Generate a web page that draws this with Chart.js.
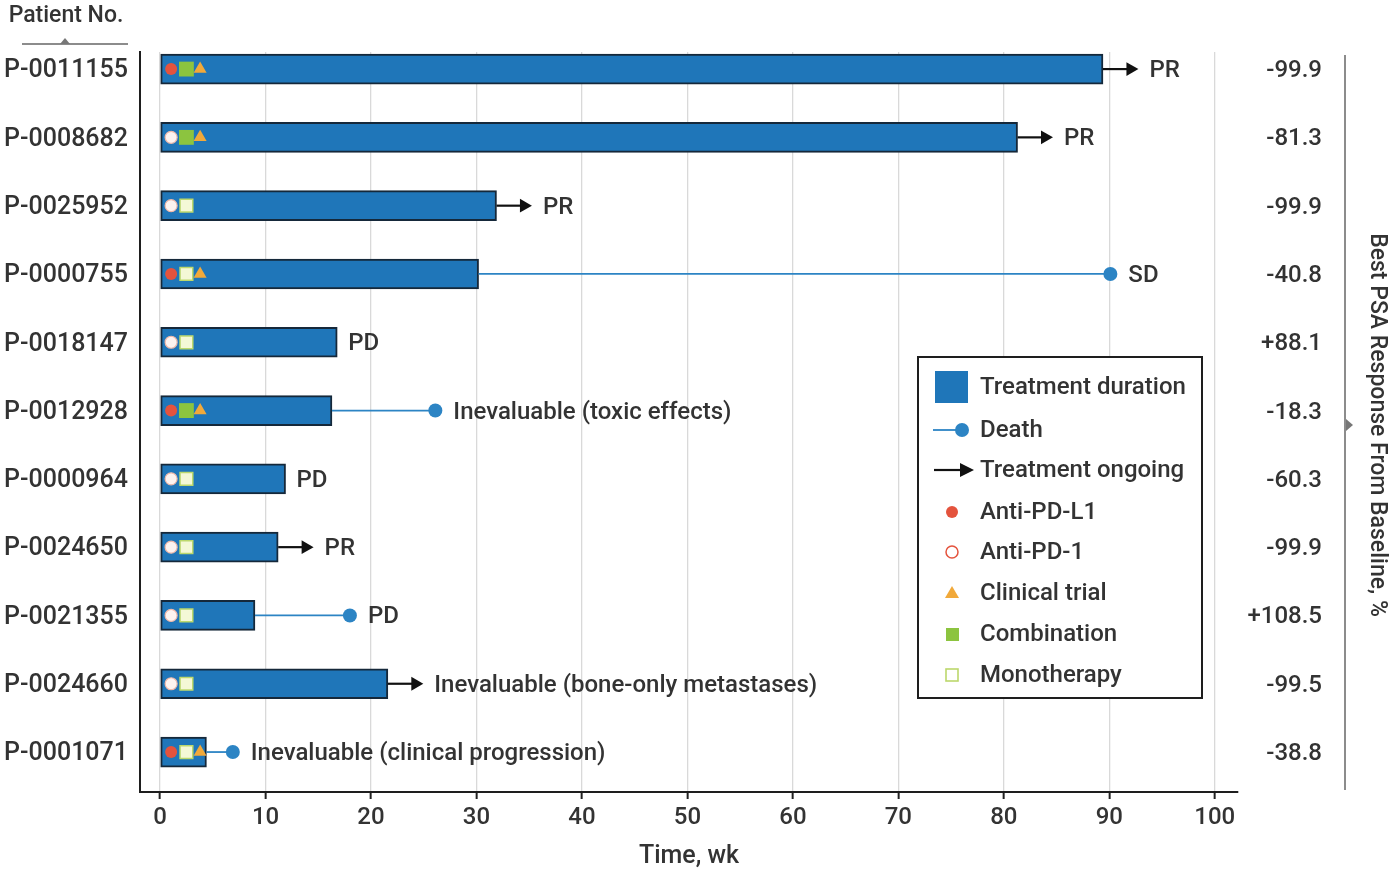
<!DOCTYPE html>
<html>
<head>
<meta charset="utf-8">
<script src="https://cdn.jsdelivr.net/npm/chart.js@4.4.1/dist/chart.umd.min.js"></script>
<style>
  html, body { margin: 0; padding: 0; background: #fff; }
  canvas { display: block; }
</style>
</head>
<body>
<canvas id="swimmer" width="1397" height="875"></canvas>
<script>
// ---- data ----
const patients = ['P-0011155', 'P-0008682', 'P-0025952', 'P-0000755', 'P-0018147', 'P-0012928',
                  'P-0000964', 'P-0024650', 'P-0021355', 'P-0024660', 'P-0001071'];
const durationWk = [89.4, 81.3, 31.9, 30.2, 16.8, 16.3, 11.9, 11.2, 9.0, 21.6, 4.4];
const deathWk    = [null, null, null, 90.1, null, 26.1, null, null, 18.0, null, 6.9];
const ongoing    = [true, true, true, false, false, false, false, true, false, true, false];
const drug       = ['PD-L1', 'PD-1', 'PD-1', 'PD-L1', 'PD-1', 'PD-L1', 'PD-1', 'PD-1', 'PD-1', 'PD-1', 'PD-L1'];
const regimen    = ['Combination', 'Combination', 'Monotherapy', 'Monotherapy', 'Monotherapy', 'Combination',
                    'Monotherapy', 'Monotherapy', 'Monotherapy', 'Monotherapy', 'Monotherapy'];
const clinicalTrial = [true, true, false, true, false, true, false, false, false, false, true];
const response   = ['PR', 'PR', 'PR', 'SD', 'PD', 'Inevaluable (toxic effects)', 'PD', 'PR', 'PD',
                    'Inevaluable (bone-only metastases)', 'Inevaluable (clinical progression)'];
const psaChange  = ['-99.9', '-81.3', '-99.9', '-40.8', '+88.1', '-18.3', '-60.3', '-99.9', '+108.5', '-99.5', '-38.8'];
const xTicks     = [0, 10, 20, 30, 40, 50, 60, 70, 80, 90, 100];

// ---- styling ----
const FONT = 'Roboto, "Open Sans", sans-serif';
const FS = 24;
const TEXT = '#333333';
const BAR_BLUE = '#1f76b9';
const BAR_EDGE = '#15283a';
const DEATH_BLUE = '#2c84c4';
const RED = '#e4533d';
const GREEN = '#8cc43f';
const ORANGE = '#f1a93a';
const MONO_FILL = '#f4f8d6';
const MONO_EDGE = '#bcd86c';
const ARROW_LEN = 2.6;    // shaft length, weeks
const ARROW_HEAD = 8;     // px
const DOT_R = 7;          // px
// marker slots inside the start of each bar (weeks)
const SLOT_DRUG = 1.05, SLOT_REGIMEN = 2.5, SLOT_TRIAL = 3.8;

const rows = patients.map((_, i) => i);

const datasets = [];

// start-of-treatment markers (drawn on top)
datasets.push({
  type: 'line', showLine: false, order: 0,
  data: rows.filter(i => clinicalTrial[i]).map(i => ({ x: SLOT_TRIAL, y: i })),
  pointStyle: 'triangle', pointRadius: 7.5, pointBackgroundColor: ORANGE, pointBorderWidth: 0
});
datasets.push({
  type: 'line', showLine: false, order: 0,
  data: rows.filter(i => regimen[i] === 'Combination').map(i => ({ x: SLOT_REGIMEN, y: i })),
  pointStyle: 'rect', pointRadius: 10.5, pointBackgroundColor: GREEN, pointBorderWidth: 0
});
datasets.push({
  type: 'line', showLine: false, order: 0,
  data: rows.filter(i => regimen[i] === 'Monotherapy').map(i => ({ x: SLOT_REGIMEN, y: i })),
  pointStyle: 'rect', pointRadius: 9, pointBackgroundColor: MONO_FILL, pointBorderColor: MONO_EDGE, pointBorderWidth: 1.5
});
datasets.push({
  type: 'line', showLine: false, order: 0,
  data: rows.filter(i => drug[i] === 'PD-L1').map(i => ({ x: SLOT_DRUG, y: i })),
  pointStyle: 'circle', pointRadius: 6, pointBackgroundColor: RED, pointBorderWidth: 0
});
datasets.push({
  type: 'line', showLine: false, order: 0,
  data: rows.filter(i => drug[i] === 'PD-1').map(i => ({ x: SLOT_DRUG, y: i })),
  pointStyle: 'circle', pointRadius: 6, pointBackgroundColor: '#fdf3f0', pointBorderColor: '#f0b8a8', pointBorderWidth: 1.2
});

// death follow-up lines
rows.filter(i => deathWk[i] != null).forEach(i => {
  datasets.push({
    type: 'line', order: 5,
    data: [{ x: durationWk[i], y: i }, { x: deathWk[i], y: i }],
    borderColor: DEATH_BLUE, borderWidth: 1.8,
    pointRadius: [0, DOT_R], pointBackgroundColor: DEATH_BLUE, pointBorderWidth: 0
  });
});

// treatment-ongoing arrows
rows.filter(i => ongoing[i]).forEach(i => {
  datasets.push({
    type: 'line', order: 5,
    data: [{ x: durationWk[i], y: i }, { x: durationWk[i] + ARROW_LEN, y: i }],
    borderColor: '#111', borderWidth: 2.2,
    pointStyle: 'triangle', pointRotation: 90,
    pointRadius: [0, ARROW_HEAD], pointBackgroundColor: '#111', pointBorderWidth: 0
  });
});

// treatment duration bars
datasets.push({
  type: 'bar', order: 10,
  data: rows.map(i => ({ x: [0, durationWk[i]], y: i })),
  backgroundColor: BAR_BLUE, borderColor: BAR_EDGE, borderWidth: 2,
  borderSkipped: false, barThickness: 30
});

// response labels, PSA column, side titles and legend box
const annotations = {
  id: 'annotations',
  afterDatasetsDraw(chart) {
    const { ctx, scales: { x, y } } = chart;
    ctx.save();
    ctx.font = `500 ${FS}px ${FONT}`;
    ctx.fillStyle = TEXT;
    ctx.textBaseline = 'middle';
    rows.forEach(i => {
      const py = y.getPixelForValue(i);
      let end = x.getPixelForValue(durationWk[i]);
      if (ongoing[i]) end = x.getPixelForValue(durationWk[i] + ARROW_LEN) + ARROW_HEAD;
      if (deathWk[i] != null) end = x.getPixelForValue(deathWk[i]) + DOT_R;
      ctx.textAlign = 'left';
      ctx.fillText(response[i], end + 11, py + 2);
      ctx.textAlign = 'right';
      ctx.fillText(psaChange[i], 1322, py + 2);
    });

    // right-hand bracket for PSA column
    ctx.strokeStyle = '#666';
    ctx.lineWidth = 1.5;
    ctx.beginPath();
    ctx.moveTo(1345, 55); ctx.lineTo(1345, 790);
    ctx.stroke();
    ctx.fillStyle = '#777';
    ctx.beginPath();
    ctx.moveTo(1346, 419); ctx.lineTo(1353, 425); ctx.lineTo(1346, 431);
    ctx.closePath(); ctx.fill();

    ctx.fillStyle = TEXT;
    ctx.save();
    ctx.translate(1377, 425);
    ctx.rotate(Math.PI / 2);
    ctx.textAlign = 'center';
    ctx.font = `500 23px ${FONT}`;
    ctx.fillText('Best PSA Response From Baseline, %', 0, 0);
    ctx.restore();

    // patient column header
    ctx.textAlign = 'center';
    ctx.font = `500 23px ${FONT}`;
    ctx.fillText('Patient No.', 66, 16);
    ctx.strokeStyle = '#666';
    ctx.beginPath();
    ctx.moveTo(22, 44); ctx.lineTo(128, 44);
    ctx.stroke();
    ctx.fillStyle = '#777';
    ctx.beginPath();
    ctx.moveTo(60, 44); ctx.lineTo(65, 38); ctx.lineTo(70, 44);
    ctx.closePath(); ctx.fill();

    // legend
    const L = 918, T = 357, R = 1202, B = 698;
    ctx.fillStyle = '#fff';
    ctx.fillRect(L, T, R - L, B - T);
    ctx.strokeStyle = '#1e1e1e';
    ctx.lineWidth = 2;
    ctx.strokeRect(L, T, R - L, B - T);

    const tx = 980;
    const rowsY = [387, 430, 470, 512, 552, 593, 634, 675];
    const labels = ['Treatment duration', 'Death', 'Treatment ongoing', 'Anti-PD-L1', 'Anti-PD-1',
                    'Clinical trial', 'Combination', 'Monotherapy'];
    // swatches
    ctx.fillStyle = BAR_BLUE;
    ctx.fillRect(935, rowsY[0] - 16, 33, 32);

    ctx.strokeStyle = DEATH_BLUE; ctx.lineWidth = 1.8;
    ctx.beginPath(); ctx.moveTo(933, rowsY[1]); ctx.lineTo(958, rowsY[1]); ctx.stroke();
    ctx.fillStyle = DEATH_BLUE;
    ctx.beginPath(); ctx.arc(962, rowsY[1], DOT_R, 0, Math.PI * 2); ctx.fill();

    ctx.strokeStyle = '#111'; ctx.lineWidth = 2.2;
    ctx.beginPath(); ctx.moveTo(934, rowsY[2]); ctx.lineTo(962, rowsY[2]); ctx.stroke();
    ctx.fillStyle = '#111';
    ctx.beginPath(); ctx.moveTo(974, rowsY[2]); ctx.lineTo(960, rowsY[2] - 7); ctx.lineTo(960, rowsY[2] + 7);
    ctx.closePath(); ctx.fill();

    ctx.fillStyle = RED;
    ctx.beginPath(); ctx.arc(952, rowsY[3], 6, 0, Math.PI * 2); ctx.fill();

    ctx.strokeStyle = RED; ctx.lineWidth = 1.5;
    ctx.beginPath(); ctx.arc(952, rowsY[4], 6, 0, Math.PI * 2); ctx.stroke();

    ctx.fillStyle = ORANGE;
    ctx.beginPath(); ctx.moveTo(952, rowsY[5] - 7); ctx.lineTo(959, rowsY[5] + 5); ctx.lineTo(945, rowsY[5] + 5);
    ctx.closePath(); ctx.fill();

    ctx.fillStyle = GREEN;
    ctx.fillRect(946, rowsY[6] - 6, 13, 13);

    ctx.strokeStyle = MONO_EDGE; ctx.lineWidth = 1.6;
    ctx.strokeRect(946, rowsY[7] - 6, 12, 12);

    ctx.fillStyle = TEXT;
    ctx.textAlign = 'left';
    ctx.font = `500 ${FS}px ${FONT}`;
    labels.forEach((t, k) => ctx.fillText(t, tx, rowsY[k] + 1));
    ctx.restore();
  }
};

new Chart(document.getElementById('swimmer'), {
  type: 'bar',
  data: { datasets },
  plugins: [annotations],
  options: {
    indexAxis: 'y',
    responsive: false,
    animation: false,
    devicePixelRatio: 1,
    events: [],
    layout: { padding: { top: 52, right: 159, left: 0, bottom: 0 } },
    plugins: { legend: { display: false }, tooltip: { enabled: false } },
    scales: {
      x: {
        type: 'linear',
        offset: false,
        min: -1.9, max: 102.2,
        afterBuildTicks: s => { s.ticks = xTicks.map(v => ({ value: v })); },
        afterFit: s => { s.height = 83; },
        grid: { color: '#d9d9d9', lineWidth: 1.3, tickColor: '#222', tickLength: 7, tickWidth: 2 },
        border: { color: '#1e1e1e', width: 2 },
        ticks: { font: { family: FONT, size: FS, weight: 500 }, color: TEXT, padding: 5, maxRotation: 0, autoSkip: false },
        title: { display: true, text: 'Time, wk', font: { family: FONT, size: 25, weight: 500 }, color: TEXT, padding: { top: 0, bottom: 3 } }
      },
      y: {
        type: 'linear',
        offset: false,
        reverse: true,
        min: -0.25, max: 10.585,
        afterBuildTicks: s => { s.ticks = rows.map(v => ({ value: v })); },
        afterFit: s => { s.width = 140; },
        grid: { display: true, drawOnChartArea: false, drawTicks: false },
        border: { color: '#1e1e1e', width: 2 },
        ticks: {
          font: { family: FONT, size: 25, weight: 500 }, color: TEXT, padding: 12, autoSkip: false,
          labelOffset: 2,
          callback: v => patients[v]
        }
      }
    }
  }
});
</script>
</body>
</html>
